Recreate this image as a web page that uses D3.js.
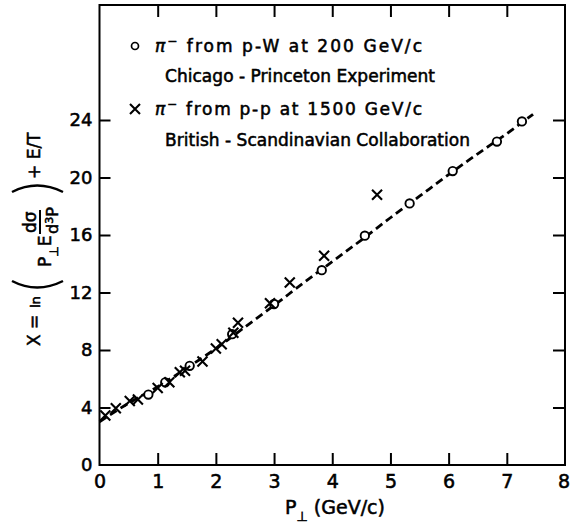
<!DOCTYPE html>
<html>
<head>
<meta charset="utf-8">
<script src="https://cdn.jsdelivr.net/npm/d3@7"></script>
<style>
  html, body { margin: 0; padding: 0; background: #fff; }
  svg { display: block; }
  text { font-family: "DejaVu Sans", sans-serif; fill: #000; }
</style>
</head>
<body>
<div id="chart"></div>
<script>
// pi- from p-W at 200 GeV/c (Chicago-Princeton)
const cpPt = [0.84, 1.13, 1.55, 2.28, 3.0, 3.82, 4.56, 5.33, 6.07, 6.83, 7.26];
const cpX  = [4.9, 5.75, 6.9, 9.1, 11.2, 13.55, 15.95, 18.2, 20.45, 22.5, 23.9];

// pi- from p-p at 1500 GeV/c (British-Scandinavian)
const bsPt = [0.10, 0.28, 0.52, 0.66, 1.0, 1.2, 1.38, 1.47, 1.77, 2.0, 2.1, 2.3, 2.38, 2.93, 3.27, 3.86, 4.77];
const bsX  = [3.45, 3.95, 4.45, 4.55, 5.35, 5.75, 6.45, 6.55, 7.2, 8.1, 8.4, 9.2, 9.9, 11.25, 12.7, 14.55, 18.8];

// dashed guide curve through the data
const curvePt = [0, 0.5, 1, 1.5, 2, 2.5, 3, 3.5, 4, 4.5, 5, 5.5, 6, 6.5, 7, 7.45];
const curveX  = [3.0, 4.3, 5.45, 6.75, 8.1, 9.6, 11.1, 12.65, 14.15, 15.65, 17.2, 18.7, 20.2, 21.65, 23.05, 24.4];

const xTicks = [0, 1, 2, 3, 4, 5, 6, 7, 8];
const yTicks = [0, 4, 8, 12, 16, 20, 24];
const yInnerTicks = [4, 8, 12, 16, 20, 24];
const xInnerTicks = [1, 2, 3, 4, 5, 6, 7];

(function () {
const W = 570, H = 527;
const mLeft = 99.5, mRight = 565, mTop = 5, mBottom = 465;
const ink = 0.55;

const svg = d3.select("#chart").append("svg").attr("width", W).attr("height", H);

const x = d3.scaleLinear().domain([0, 8]).range([mLeft, mRight]);
const y = d3.scaleLinear().domain([0, 32]).range([mBottom, mTop]);

// frame
svg.append("rect")
  .attr("x", mLeft).attr("y", mTop)
  .attr("width", mRight - mLeft).attr("height", mBottom - mTop)
  .attr("fill", "none").attr("stroke", "#000").attr("stroke-width", 2);

// bottom axis (ticks point inward)
const gx = svg.append("g").attr("transform", `translate(0,${mBottom})`)
  .call(d3.axisBottom(x).tickValues(xTicks).tickSize(-12).tickPadding(10).tickFormat(d3.format("d")));
gx.select(".domain").remove();
gx.selectAll(".tick line").attr("stroke-width", 2).filter(d => d === 0 || d === 8).remove();
gx.selectAll(".tick text").attr("font-size", 19).attr("font-family", "DejaVu Sans")
  .attr("stroke", "#000").attr("stroke-width", ink)
  .attr("dx", d => d === 8 ? -1.5 : 0);

// left axis
const gy = svg.append("g").attr("transform", `translate(${mLeft},0)`)
  .call(d3.axisLeft(y).tickValues(yTicks).tickSize(-11).tickPadding(7).tickFormat(d3.format("d")));
gy.select(".domain").remove();
gy.selectAll(".tick line").attr("stroke-width", 2).filter(d => d === 0).remove();
gy.selectAll(".tick text").attr("font-size", 18).attr("font-family", "DejaVu Sans")
  .attr("stroke", "#000").attr("stroke-width", ink);

// top and right inner ticks
const gt = svg.append("g").attr("transform", `translate(0,${mTop})`)
  .call(d3.axisTop(x).tickValues(xInnerTicks).tickSize(-12).tickFormat(""));
gt.select(".domain").remove();
gt.selectAll(".tick line").attr("stroke-width", 2);

const gr = svg.append("g").attr("transform", `translate(${mRight},0)`)
  .call(d3.axisRight(y).tickValues(yInnerTicks).tickSize(-12).tickFormat(""));
gr.select(".domain").remove();
gr.selectAll(".tick line").attr("stroke-width", 2);

// dashed curve
const line = d3.line().x(d => x(d[0])).y(d => y(d[1])).curve(d3.curveMonotoneX);
svg.append("path")
  .datum(curvePt.map((p, i) => [p, curveX[i]]))
  .attr("d", line)
  .attr("fill", "none").attr("stroke", "#000")
  .attr("stroke-width", 2.8).attr("stroke-dasharray", "8,4.5");

// markers
function cross(g, cx, cy, s) {
  g.append("path")
    .attr("d", `M${cx - s},${cy - s}L${cx + s},${cy + s}M${cx - s},${cy + s}L${cx + s},${cy - s}`)
    .attr("stroke", "#000").attr("stroke-width", 2.1).attr("fill", "none");
}

const gc = svg.append("g");
gc.selectAll("circle").data(cpPt.map((p, i) => [p, cpX[i]])).join("circle")
  .attr("cx", d => x(d[0])).attr("cy", d => y(d[1])).attr("r", 4.2)
  .attr("fill", "#fff").attr("stroke", "#000").attr("stroke-width", 1.9);

const gxm = svg.append("g");
bsPt.forEach((p, i) => cross(gxm, x(p), y(bsX[i]), 5));

// legend
const lg = svg.append("g");
lg.append("circle").attr("cx", 135).attr("cy", 46).attr("r", 3.5)
  .attr("fill", "none").attr("stroke", "#000").attr("stroke-width", 1.7);
cross(lg, 135, 109, 5);

function legendText(tx, ty, parts, len) {
  const t = lg.append("text").attr("x", tx).attr("y", ty).attr("font-size", 17)
    .attr("stroke", "#000").attr("stroke-width", ink);
  parts.forEach(pp => {
    const ts = t.append("tspan").text(pp.s);
    if (pp.sup) ts.attr("dy", -7).attr("font-size", 12);
    if (pp.down) ts.attr("dy", 7);
    if (pp.it) ts.attr("font-style", "italic");
  });
  if (len) t.attr("textLength", len).attr("lengthAdjust", "spacing");
}
legendText(155, 52, [{s: "π", it: true}, {s: "−", sup: true}, {s: " from p-W at 200 GeV/c", down: true}], 267);
legendText(165, 82, [{s: "Chicago - Princeton  Experiment"}], 270);
legendText(155, 115, [{s: "π", it: true}, {s: "−", sup: true}, {s: " from p-p at 1500 GeV/c", down: true}], 267);
legendText(165, 146, [{s: "British - Scandinavian  Collaboration"}], 305);

// x-axis title
const xt = svg.append("text").attr("x", 285).attr("y", 514).attr("font-size", 19)
  .attr("stroke", "#000").attr("stroke-width", ink);
xt.append("tspan").text("P");
xt.append("tspan").attr("dy", 7).attr("font-size", 13).text("⊥");
xt.append("tspan").attr("dy", -7).text("  (GeV/c)");

// y-axis title, rotated; local x = -screenY, local y = screenX
const yt = svg.append("g").attr("transform", "rotate(-90)")
  .attr("stroke", "#000").attr("stroke-width", ink);
function ytext(sy, sx, size, s) {
  return yt.append("text").attr("x", -sy).attr("y", sx).attr("font-size", size).text(s);
}
ytext(346, 40, 17, "X =");
ytext(308, 40, 13, "ln");
// big parentheses
yt.append("path").attr("d", `M${-281},12 Q${-294},37 ${-281},63`)
  .attr("fill", "none").attr("stroke-width", 2.5);
yt.append("path").attr("d", `M${-192},12 Q${-179},37 ${-192},63`)
  .attr("fill", "none").attr("stroke-width", 2.5);
const pe = ytext(267, 51, 17, "P");
pe.append("tspan").attr("dy", 7).attr("font-size", 12).text("⊥");
pe.append("tspan").attr("dy", -7).text("E");
// fraction
ytext(233, 36, 17, "dσ");
yt.append("line").attr("x1", -234).attr("x2", -210).attr("y1", 40).attr("y2", 40)
  .attr("stroke-width", 2);
const d3p = ytext(234, 58, 16, "d");
d3p.append("tspan").attr("dy", -5).attr("font-size", 11).text("3");
d3p.append("tspan").attr("dy", 5).text("P");
ytext(179, 40, 17, "+ E/T");
})();
</script>
</body>
</html>
